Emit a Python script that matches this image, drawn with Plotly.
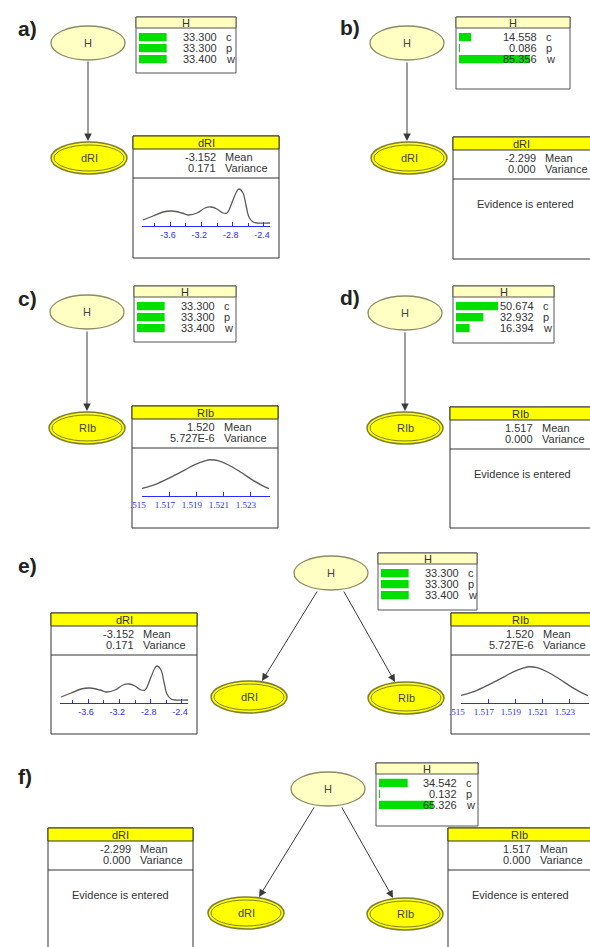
import plotly.graph_objects as go

W, HT = 590, 947
FONT = "Liberation Sans, Arial, sans-serif"

# ---------------- data ----------------
states = ["c", "p", "w"]
H_prior = [33.300, 33.300, 33.400]
H_given_dRI = [14.558, 0.086, 85.356]
H_given_RIb = [50.674, 32.932, 16.394]
H_given_both = [34.542, 0.132, 65.326]

dRI_x = [-3.945, -3.817, -3.689, -3.574, -3.447, -3.370, -3.255, -3.153, -3.077, -3.000,
         -2.923, -2.872, -2.796, -2.745, -2.719, -2.668, -2.630, -2.592, -2.540, -2.489, -2.323]
dRI_density = [0.3, 0.7, 1.1, 1.2, 1.0, 0.8, 1.0, 1.5, 1.6, 1.4,
               1.0, 1.0, 2.3, 3.2, 3.4, 3.0, 1.8, 0.6, 0.1, 0.0, 0.0]
RIb_x = [1.51493, 1.51589, 1.51700, 1.51811, 1.51885, 1.51959, 1.51996,
         1.52056, 1.52130, 1.52219, 1.52307, 1.52381, 1.52433]
RIb_density = [17, 37, 73, 114, 142, 161, 167, 162, 141, 104, 63, 33, 16]

dRI_tickvals = [-3.6, -3.2, -2.8, -2.4]
dRI_ticktext = ["-3.6", "-3.2", "-2.8", "-2.4"]
RIb_tickvals = [1.515, 1.517, 1.519, 1.521, 1.523]
RIb_ticktext = [".515", "1.517", "1.519", "1.521", "1.523"]

dRI_prior_stats = ["-3.152", "0.171"]
dRI_evidence_stats = ["-2.299", "0.000"]
RIb_prior_stats = ["1.520", "5.727E-6"]
RIb_evidence_stats = ["1.517", "0.000"]

# ---------------- helpers ----------------
fig = go.Figure()
shapes, annos = [], []
axes = {}
count = [1]


def new_axes(x0, x1, y0, y1):
    count[0] += 1
    n = count[0]
    axes[f"xaxis{n}"] = dict(domain=[x0 / W, x1 / W], anchor=f"y{n}", automargin=False)
    axes[f"yaxis{n}"] = dict(domain=[1 - y1 / HT, 1 - y0 / HT], anchor=f"x{n}",
                             automargin=False)
    return n


def text(x, y, s, size=11, anchor="center", color="#333", bold=False, family=FONT):
    if bold:
        s = f"<b>{s}</b>"
    annos.append(dict(x=x, y=y, xref="x", yref="y", text=s, showarrow=False,
                      xanchor=anchor, yanchor="middle",
                      font=dict(size=size, color=color, family=family)))


def rect(x0, y0, x1, y1, fill="white", line="#555", width=1):
    shapes.append(dict(type="rect", xref="x", yref="y", x0=x0, y0=y0, x1=x1, y1=y1,
                       fillcolor=fill, line=dict(color=line, width=width), layer="below"))


def hline(x0, x1, y, color="#555"):
    shapes.append(dict(type="line", xref="x", yref="y", x0=x0, x1=x1, y0=y, y1=y,
                       line=dict(color=color, width=1), layer="below"))


def h_node(cx, cy, rx=37, ry=17):
    shapes.append(dict(type="circle", xref="x", yref="y", x0=cx - rx, x1=cx + rx,
                       y0=cy - ry, y1=cy + ry, fillcolor="#FFFFC4",
                       line=dict(color="#8C8C64", width=1.3), layer="below"))
    text(cx, cy, "H", size=11, color="#444")


def y_node(cx, cy, label, rx=38, ry=16):
    shapes.append(dict(type="circle", xref="x", yref="y", x0=cx - rx, x1=cx + rx,
                       y0=cy - ry, y1=cy + ry, fillcolor="#FFFF00",
                       line=dict(color="#7E7E30", width=1.5), layer="below"))
    shapes.append(dict(type="circle", xref="x", yref="y", x0=cx - rx + 3, x1=cx + rx - 3,
                       y0=cy - ry + 3, y1=cy + ry - 3, fillcolor="rgba(0,0,0,0)",
                       line=dict(color="#7E7E30", width=1), layer="below"))
    text(cx, cy, label, size=11, color="#444")


def arrow(x0, y0, x1, y1):
    annos.append(dict(x=x1, y=y1, ax=x0, ay=y0, xref="x", yref="y", axref="x", ayref="y",
                      text="", showarrow=True, arrowhead=2, arrowsize=1.5, arrowwidth=1,
                      arrowcolor="#3a3a3a"))


def h_box(left, top, right, bottom, vals):
    hh = 11
    rect(left, top, right, bottom)
    rect(left, top, right, top + hh, fill="#FFFFC0")
    text((left + right) / 2, top + hh / 2 + 0.5, "H", size=11)
    hb = top + hh
    n = new_axes(left + 3, left + 3 + 83, hb + 3.5, hb + 36.5)
    fig.add_trace(go.Bar(x=vals, y=states, orientation="h", marker_color="#00E000",
                         marker_line_width=0, width=0.75, xaxis=f"x{n}", yaxis=f"y{n}",
                         hoverinfo="skip", showlegend=False))
    axes[f"xaxis{n}"].update(range=[0, 100], visible=False, fixedrange=True)
    axes[f"yaxis{n}"].update(type="category", categoryorder="array", categoryarray=states,
                             range=[2.5, -0.5], visible=False, fixedrange=True)
    for k, (v, s) in enumerate(zip(vals, states)):
        y = hb + 9 + 11 * k
        text(left + 83, y, f"{v:.3f}", size=11, anchor="right")
        text(left + 88, y, s, size=11, anchor="left")


def stat_box(left, top, right, bottom, name, stats):
    rect(left, top, right, bottom, line="#333")
    rect(left, top, right, top + 13, fill="#FFFF00", line="#333")
    text((left + min(right, 590)) / 2, top + 7, name, size=11)
    text(left + 85, top + 21, stats[0], size=11, anchor="right")
    text(left + 90, top + 21, "Mean", size=11, anchor="left")
    text(left + 85, top + 32, stats[1], size=11, anchor="right")
    text(left + 90, top + 32, "Variance", size=11, anchor="left")
    hline(left, right, top + 42, color="#333")


def evidence(left, top):
    text(left + 72, top + 67, "Evidence is entered", size=11)


def density_plot(left, top, xs, ys, xr, yr, tv, tt, minor_dtick, tfont, shift):
    n = new_axes(left + 9, left + 137, top + 45, top + 90)
    fig.add_trace(go.Scatter(x=xs, y=ys, mode="lines",
                             line=dict(color="#5a5a5a", width=1.3, shape="spline"),
                             xaxis=f"x{n}", yaxis=f"y{n}", hoverinfo="skip",
                             showlegend=False))
    xa = dict(range=xr, showline=True, linecolor="#2a2aff", linewidth=1,
              showgrid=False, zeroline=False, tickvals=tv, ticktext=tt,
              ticks="inside", ticklen=4, tickcolor="#2a2aff", tickwidth=1,
              tickfont=dict(size=9, color="#2a2aff", family=tfont),
              ticklabelshift=shift, fixedrange=True)
    if minor_dtick:
        xa["minor"] = dict(dtick=minor_dtick, tick0=tv[0], ticks="inside", ticklen=3,
                           tickcolor="#2a2aff", showgrid=False)
    axes[f"xaxis{n}"].update(xa)
    axes[f"yaxis{n}"].update(range=yr, visible=False, fixedrange=True)


def dRI_plot(left, top):
    density_plot(left, top, dRI_x, dRI_density, [-3.958, -2.323], [-0.3, 4.2],
                 dRI_tickvals, dRI_ticktext, 0.2, FONT, -2)


def RIb_plot(left, top):
    density_plot(left + 1, top, RIb_x, RIb_density, [1.51493, 1.52441], [-23, 213],
                 RIb_tickvals, RIb_ticktext, None, "Liberation Serif, serif", -5)


def label(x, y, s):
    text(x, y, s, size=21, bold=True, color="#222")


# ---------------- panel a ----------------
label(27, 28, "a)")
h_node(88, 43)
y_node(89, 158, "dRI")
arrow(88, 60, 88, 141)
h_box(136, 17, 236, 73, H_prior)
stat_box(133, 136, 279, 258, "dRI", dRI_prior_stats)
dRI_plot(133, 136)

# ---------------- panel b ----------------
label(350, 27, "b)")
h_node(407, 43)
y_node(409, 158, "dRI")
arrow(407, 61, 407, 141)
h_box(456, 17, 570, 89, H_given_dRI)
stat_box(453, 137, 600, 259, "dRI", dRI_evidence_stats)
evidence(453, 137)

# ---------------- panel c ----------------
label(27, 298, "c)")
h_node(87, 312)
y_node(87, 428, "RIb")
arrow(87, 330, 87, 411)
h_box(134, 286, 236, 342, H_prior)
stat_box(132, 406, 278, 528, "RIb", RIb_prior_stats)
RIb_plot(132, 406)

# ---------------- panel d ----------------
label(350, 297, "d)")
h_node(405, 313)
y_node(405, 428, "RIb")
arrow(405, 331, 405, 411)
h_box(453, 286, 554, 343, H_given_RIb)
stat_box(450, 407, 600, 528, "RIb", RIb_evidence_stats)
evidence(450, 407)

# ---------------- panel e ----------------
label(27, 565, "e)")
h_node(331, 573)
y_node(249, 697, "dRI")
y_node(406, 698, "RIb")
arrow(318, 590, 262, 681)
arrow(343, 590, 395, 682)
h_box(378, 553, 477, 610, H_prior)
stat_box(51, 613, 197, 734, "dRI", dRI_prior_stats)
dRI_plot(51, 613)
stat_box(451, 613, 600, 734, "RIb", RIb_prior_stats)
RIb_plot(451, 613)

# ---------------- panel f ----------------
label(25, 776, "f)")
h_node(328, 789)
y_node(246, 913, "dRI")
y_node(405, 914, "RIb")
arrow(315, 806, 259, 897)
arrow(341, 806, 393, 898)
h_box(376, 763, 478, 826, H_given_both)
stat_box(48, 828, 193, 960, "dRI", dRI_evidence_stats)
evidence(48, 828)
stat_box(448, 828, 600, 960, "RIb", RIb_evidence_stats)
evidence(448, 828)

fig.update_layout(
    width=W, height=HT, margin=dict(l=0, r=0, t=0, b=0, pad=0, autoexpand=False),
    paper_bgcolor="white", plot_bgcolor="rgba(0,0,0,0)",
    xaxis=dict(range=[0, W], domain=[0, 1], visible=False, fixedrange=True,
               automargin=False),
    yaxis=dict(range=[HT, 0], domain=[0, 1], visible=False, fixedrange=True,
               automargin=False),
    shapes=shapes, annotations=annos, showlegend=False,
    font=dict(family=FONT),
)
fig.update_layout(**axes)
fig.write_html("out.html", config={"displayModeBar": False},
               post_script="document.body.style.margin='0';document.body.style.overflow='hidden';")
